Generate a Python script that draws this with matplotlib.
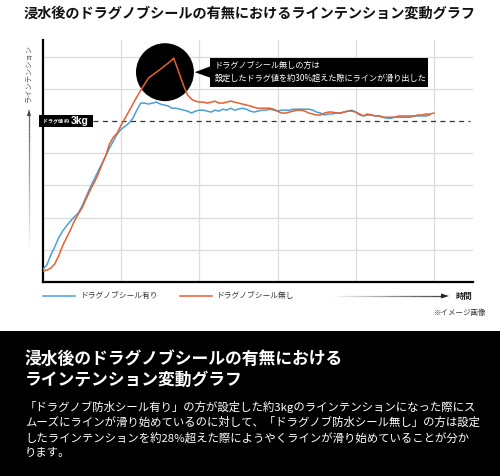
import numpy as np
import matplotlib
matplotlib.use("Agg")
import matplotlib.pyplot as plt
from matplotlib.patches import Ellipse, Rectangle, Polygon
from matplotlib.collections import LineCollection

plt.rcParams['font.family'] = ['Noto Sans CJK JP', 'DejaVu Sans']

# ---------------- data ----------------
title = "浸水後のドラグノブシールの有無におけるラインテンション変動グラフ"
series_names = ["ドラグノブシール有り", "ドラグノブシール無し"]
drag_value = 50  # tension level of the ~3kg drag setting (grid units)

time_blue = [0, 0.5, 1, 1.5, 2, 2.5, 3, 3.5, 4, 4.5, 5, 5.5, 6, 6.5, 7, 7.5, 8, 8.5, 9, 9.5,
             10, 10.5, 11, 11.5, 12, 12.5, 13, 13.5, 14, 14.5, 15, 15.5, 16, 16.5, 17, 17.5, 18, 18.5, 19, 19.5,
             20, 20.5, 21, 21.5, 22, 22.5, 23, 23.5, 24, 24.5, 25, 25.5, 26, 26.5, 27, 27.5, 28, 28.5, 29, 29.5,
             30, 30.5, 31, 31.5, 32, 32.5, 33, 33.5, 34, 34.5, 35, 35.5, 36, 36.5, 37, 37.5, 38, 38.5, 39, 39.5,
             40, 40.5, 41, 41.5, 42, 42.5, 43, 43.5, 44, 44.5, 45, 45.5, 46, 46.5, 47, 47.5, 48, 48.5, 49, 49.5]
tension_blue = [4.0, 5.3, 8.4, 10.9, 13.7, 15.8, 17.4, 18.9, 20.2, 21.4,
                23.6, 26.4, 29.2, 31.7, 34.2, 36.6, 39.1, 41.6, 43.8, 46.0,
                47.5, 48.4, 49.4, 50.9, 53.4, 55.6, 55.6, 55.3, 55.6, 55.9,
                55.3, 55.0, 54.7, 54.0, 54.0, 53.7, 53.4, 53.1, 52.5, 53.1,
                53.4, 53.4, 53.1, 52.8, 53.4, 53.1, 53.7, 53.4, 54.0, 53.4,
                53.7, 54.0, 53.7, 53.1, 52.8, 53.1, 53.4, 53.4, 53.7, 53.4,
                53.1, 53.4, 53.4, 53.4, 53.7, 53.7, 53.7, 53.7, 53.7, 53.4,
                52.8, 52.5, 51.9, 52.2, 52.2, 52.5, 52.5, 52.8, 53.1, 53.4,
                52.8, 51.9, 51.6, 51.9, 51.9, 51.6, 51.6, 51.2, 50.9, 50.9,
                51.2, 51.2, 51.2, 51.2, 51.2, 51.6, 51.6, 51.6, 51.6, 51.9]

time_orange = [0, 0.5, 1, 1.5, 2, 2.5, 3, 3.5, 4, 4.5, 5, 5.5, 6, 6.5, 7, 7.5, 8, 8.5, 9, 9.5,
               10, 10.5, 11, 11.5, 12, 12.5, 13, 13.5, 14, 14.5, 15, 15.5, 16, 16.5, 16.7, 17, 17.5, 18, 18.5, 19, 19.5,
               20, 20.5, 21, 21.5, 22, 22.5, 23, 23.5, 24, 24.5, 25, 25.5, 26, 26.5, 27, 27.5, 28, 28.5, 29, 29.5,
               30, 30.5, 31, 31.5, 32, 32.5, 33, 33.5, 34, 34.5, 35, 35.5, 36, 36.5, 37, 37.5, 38, 38.5, 39, 39.5,
               40, 40.5, 41, 41.5, 42, 42.5, 43, 43.5, 44, 44.5, 45, 45.5, 46, 46.5, 47, 47.5, 48, 48.5, 49, 49.5, 50]
tension_orange = [3.4, 3.7, 4.3, 5.6, 8.1, 11.2, 13.7, 16.1, 18.9, 21.1,
                  23.0, 25.8, 28.3, 30.7, 33.2, 36.3, 39.1, 42.9, 45.0, 46.3,
                  48.8, 50.9, 53.1, 55.3, 57.5, 59.6, 61.5, 63.4, 64.3, 65.2,
                  66.1, 67.1, 68.0, 69.0, 69.6, 67.7, 64.3, 60.9, 58.1, 56.8, 56.2,
                  55.9, 55.9, 55.6, 55.9, 56.2, 55.6, 55.6, 55.9, 56.2, 55.9,
                  55.6, 55.3, 55.0, 54.7, 54.3, 54.0, 54.0, 54.0, 54.0, 53.7,
                  53.1, 52.5, 52.5, 52.8, 53.1, 53.4, 53.4, 53.1, 52.5, 52.2,
                  51.9, 51.9, 52.5, 52.8, 52.8, 52.5, 52.5, 52.8, 53.1, 53.1,
                  52.8, 52.2, 51.6, 52.2, 51.9, 51.6, 51.6, 51.2, 51.2, 51.2,
                  51.2, 51.6, 51.6, 51.6, 51.6, 51.6, 51.9, 51.9, 52.2, 52.2, 52.5]

callout_lines = ["ドラグノブシール無しの方は", "設定したドラグ値を約30%超えた際にラインが滑り出した"]
panel_title = ["浸水後のドラグノブシールの有無における", "ラインテンション変動グラフ"]
panel_body = ["「ドラグノブ防水シール有り」の方が設定した約3kgのラインテンションになった際にス",
              "ムーズにラインが滑り始めているのに対して、「ドラグノブ防水シール無し」の方は設定",
              "したラインテンションを約28%超えた際にようやくラインが滑り始めていることが分か",
              "ります。"]

# ---------------- figure ----------------
W, H = 500, 476
fig = plt.figure(figsize=(W / 100, H / 100), dpi=100)

def fx(px):
    return px / W

def fy(py):
    return 1 - py / H

BLUE = "#4a9fd9"
ORANGE = "#e5602f"

ax = fig.add_axes([fx(43), fy(282), fx(473) - fx(43), fy(40) - fy(282)])
ax.set_xlim(0, 55)
ax.set_ylim(0, 75.2)
for gx in [10, 20, 30, 40, 50]:
    ax.axvline(gx, color="#dcdcdc", lw=0.9, zorder=0)
for gy in [10, 20, 30, 40, 60, 70]:
    ax.axhline(gy, color="#dcdcdc", lw=0.9, zorder=0)
ax.set_xticks([])
ax.set_yticks([])
for s in ["top", "right"]:
    ax.spines[s].set_visible(False)
for s in ["left", "bottom"]:
    ax.spines[s].set_linewidth(1.6)
    ax.spines[s].set_color("black")

# drag line
ax.plot([6.4, 54.6], [drag_value, drag_value], color="#333333", lw=0.9,
        dashes=(4, 3.5), zorder=1)

ax.plot(time_blue, tension_blue, color=BLUE, lw=1.1, zorder=3)

# highlight circle
ax.add_patch(Ellipse((15.6, 65.2), 7.41, 18.0, color="black", zorder=4, lw=0))
ax.plot(time_orange, tension_orange, color=ORANGE, lw=1.1, zorder=5)

# callout
ax.add_patch(Rectangle((21.3, 60.6), 49.2 - 21.3, 69.6 - 60.6, color="black", zorder=6, lw=0))
ax.add_patch(Polygon([[19.4, 65.2], [21.4, 67.0], [21.4, 63.5]], closed=True, color="black", zorder=6, lw=0))
ax.text(22.0, 67.2, callout_lines[0], color="white", fontsize=5.9, va="center", ha="left", zorder=7)
ax.text(22.0, 63.2, callout_lines[1], color="white", fontsize=5.9, va="center", ha="left", zorder=7)

# drag label box
ax.add_patch(Rectangle((-0.5, 48.1), 6.9, 3.8, color="black", zorder=6, lw=0, clip_on=False))
ax.text(0.0, 49.9, "ドラグ値 約", color="white", fontsize=3.6, va="center", ha="left",
        zorder=7, fontweight="bold")
ax.text(3.5, 50.0, "3kg", color="white", fontsize=7.4, va="center", ha="left",
        zorder=7, fontweight="bold", family=["Liberation Sans", "DejaVu Sans"])

# title
fig.text(0.5, fy(14), title, ha="center", va="center", fontsize=10.2, fontweight="bold", color="#111111")

# y-axis label + gradient arrow
fig.text(fx(29), fy(74), "ラインテンション", rotation=90, ha="center", va="center",
         fontsize=5.2, color="#555555")
ys = np.linspace(253, 114, 40)
segs = [[[fx(29), fy(ys[i])], [fx(29), fy(ys[i + 1])]] for i in range(len(ys) - 1)]
lc = LineCollection(segs, colors=[(0.35, 0.35, 0.35, a) for a in np.linspace(0.0, 1.0, len(segs))],
                    linewidths=0.9, transform=fig.transFigure)
fig.add_artist(lc)
fig.add_artist(Polygon([[fx(29), fy(109)], [fx(27), fy(116)], [fx(31), fy(116)]], closed=True,
                       color="#444444", transform=fig.transFigure, lw=0))

# legend
fig.add_artist(plt.Line2D([fx(43), fx(75)], [fy(296), fy(296)], color=BLUE, lw=1.1, transform=fig.transFigure))
fig.text(fx(81), fy(296), series_names[0], ha="left", va="center", fontsize=5.6, color="#333333")
fig.add_artist(plt.Line2D([fx(180), fx(212)], [fy(296), fy(296)], color=ORANGE, lw=1.1, transform=fig.transFigure))
fig.text(fx(217), fy(296), series_names[1], ha="left", va="center", fontsize=5.6, color="#333333")

# time arrow
xs = np.linspace(330, 442, 40)
segs = [[[fx(xs[i]), fy(296)], [fx(xs[i + 1]), fy(296)]] for i in range(len(xs) - 1)]
lc2 = LineCollection(segs, colors=[(0.2, 0.2, 0.2, a) for a in np.linspace(0.0, 1.0, len(segs))],
                     linewidths=0.9, transform=fig.transFigure)
fig.add_artist(lc2)
fig.add_artist(Polygon([[fx(449), fy(296)], [fx(441), fy(293.5)], [fx(441), fy(298.5)]], closed=True,
                       color="#222222", transform=fig.transFigure, lw=0))
fig.text(fx(455), fy(296), "時間", ha="left", va="center", fontsize=6.0, color="#222222", fontweight="bold")
fig.text(fx(486), fy(313), "※イメージ画像", ha="right", va="center", fontsize=5.4, color="#333333")

# black panel
fig.add_artist(Rectangle((0, 0), 1, fy(331), color="black", transform=fig.transFigure, zorder=0, lw=0))
fig.text(fx(25), fy(359), panel_title[0], ha="left", va="center", fontsize=12.1,
         fontweight="bold", color="white")
fig.text(fx(25), fy(380), panel_title[1], ha="left", va="center", fontsize=12.1,
         fontweight="bold", color="white")
for i, line in enumerate(panel_body):
    fig.text(fx(25), fy(407 + i * 15.3), line, ha="left", va="center", fontsize=8.2, color="white")

fig.savefig("out.png", dpi=100, facecolor="white")
